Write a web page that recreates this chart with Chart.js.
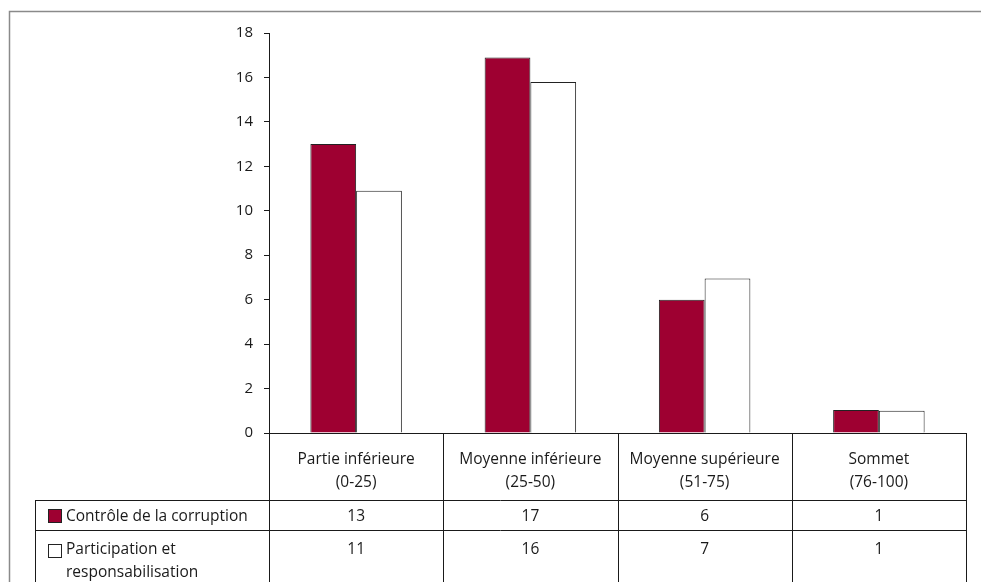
<!DOCTYPE html>
<html>
<head>
<meta charset="utf-8">
<script src="https://cdn.jsdelivr.net/npm/chart.js@4"></script>
<style>
  html, body { margin: 0; padding: 0; background: #fff; }
  #wrap { width: 981px; height: 582px; }
</style>
</head>
<body>
<div id="wrap"><canvas id="chart" width="981" height="582"></canvas></div>
<script>
var categories = [
    ['Partie inférieure', '(0-25)'],
    ['Moyenne inférieure', '(25-50)'],
    ['Moyenne supérieure', '(51-75)'],
    ['Sommet', '(76-100)']
]
var seriesNames = [['Contrôle de la corruption'], ['Participation et', 'responsabilisation']]
var corruption = [13, 16.9, 6, 1.03]
var participation = [10.9, 15.8, 6.95, 1]
var corruptionTable = ['13', '17', '6', '1']
var participationTable = ['11', '16', '7', '1']
var yTicks = [0, 2, 4, 6, 8, 10, 12, 14, 16, 18]

var RED = '#9e0031'
var FONT = '"Open Sans", "DejaVu Sans", sans-serif'

// draws the frame, the data table under the axis and the legend cells
var tablePlugin = {
    id: 'tablePlugin',
    afterDraw: function(chart) {
        var ctx = chart.ctx
        var xs = chart.scales.x
        var area = chart.chartArea
        var left = 35, bottom = 600
        var row1 = 500, row2 = 530
        ctx.save()
        // outer frame
        ctx.strokeStyle = '#8a8a8a'
        ctx.lineWidth = 1.5
        ctx.strokeRect(9.5, 11.5, 1000, 1000)

        ctx.strokeStyle = '#1a1a1a'
        ctx.lineWidth = 1
        ctx.beginPath()
        ctx.moveTo(left, row1 + 0.5); ctx.lineTo(area.right, row1 + 0.5)
        ctx.moveTo(left, row2 + 0.5); ctx.lineTo(area.right, row2 + 0.5)
        ctx.moveTo(left + 0.5, row1); ctx.lineTo(left + 0.5, bottom)
        var step = (area.right - area.left) / categories.length
        for (var i = 0; i <= categories.length; i++) {
            var x = Math.round(area.left + step * i) + 0.5
            ctx.moveTo(x, area.bottom); ctx.lineTo(x, bottom)
        }
        ctx.stroke()

        // values
        ctx.fillStyle = '#1a1a1a'
        ctx.font = '15.5px ' + FONT
        ctx.textAlign = 'center'
        ctx.textBaseline = 'middle'
        for (var i = 0; i < categories.length; i++) {
            var cx = xs.getPixelForValue(i)
            ctx.fillText(corruptionTable[i], cx, 517)
            ctx.fillText(participationTable[i], cx, 550)
        }

        // legend cells
        ctx.fillStyle = RED
        ctx.fillRect(48, 509, 14, 14)
        ctx.strokeStyle = '#222'
        ctx.strokeRect(48.5, 509.5, 13, 13)
        ctx.fillStyle = '#fff'
        ctx.fillRect(48, 544, 14, 14)
        ctx.strokeRect(48.5, 544.5, 13, 13)
        ctx.fillStyle = '#1a1a1a'
        ctx.textAlign = 'left'
        ctx.fillText(seriesNames[0][0], 66, 517)
        ctx.fillText(seriesNames[1][0], 66, 550)
        ctx.fillText(seriesNames[1][1], 66, 573)
        ctx.restore()
    }
}

var ctx = document.getElementById('chart').getContext('2d')
var chart = new Chart(ctx, {
    type: 'bar',
    data: {
        labels: categories,
        datasets: [{
            label: seriesNames[0].join(' '),
            data: corruption,
            backgroundColor: RED,
            borderColor: '#222',
            borderWidth: 1
        }, {
            label: seriesNames[1].join(' '),
            data: participation,
            backgroundColor: '#ffffff',
            borderColor: '#222',
            borderWidth: 1
        }]
    },
    options: {
        responsive: false,
        animation: false,
        layout: { padding: { left: 9, right: 15, top: 33, bottom: 0 } },
        plugins: {
            legend: { display: false },
            tooltip: { enabled: false }
        },
        datasets: {
            bar: { categoryPercentage: 0.525, barPercentage: 1 }
        },
        scales: {
            x: {
                grid: { display: false },
                border: { display: true, color: '#1a1a1a', width: 1 },
                ticks: {
                    color: '#1a1a1a',
                    padding: 7,
                    maxRotation: 0,
                    font: { family: FONT, size: 15.5, lineHeight: 1.5 }
                },
                afterFit: function(s) { s.height = 149 }
            },
            y: {
                min: 0,
                max: 18,
                afterBuildTicks: function(s) {
                    s.ticks = yTicks.map(function(v) { return { value: v } })
                },
                grid: { drawOnChartArea: false, tickLength: 5, color: '#1a1a1a' },
                border: { display: true, color: '#1a1a1a', width: 1 },
                ticks: {
                    color: '#1a1a1a',
                    padding: 11,
                    font: { family: FONT, size: 15 }
                },
                afterFit: function(s) { s.width = 260 }
            }
        }
    },
    plugins: [tablePlugin]
})
</script>
</body>
</html>
